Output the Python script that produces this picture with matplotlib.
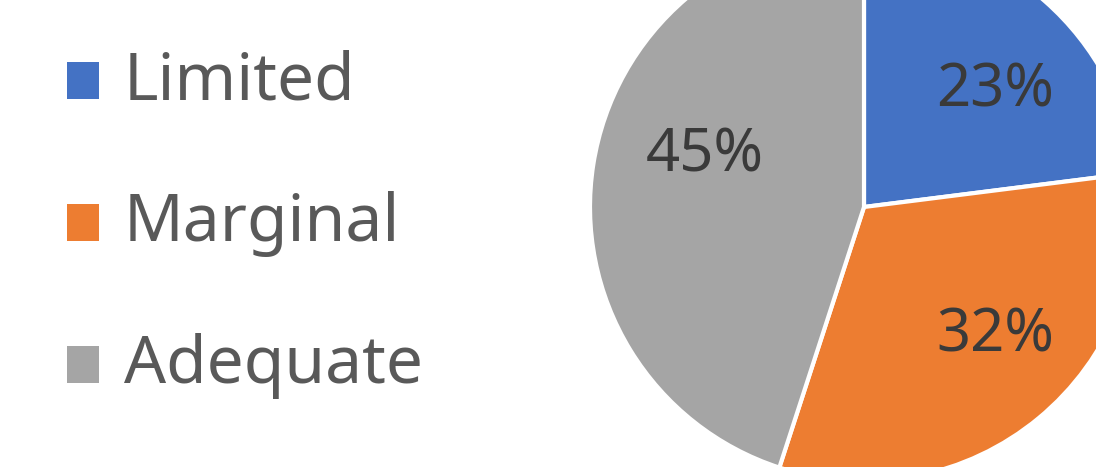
import matplotlib
matplotlib.use("Agg")
import matplotlib.pyplot as plt
import numpy as np

categories = ["Limited", "Marginal", "Adequate"]
values = [23, 32, 45]
colors = ["#4472C4", "#ED7D31", "#A5A5A5"]

W, H = 1096, 467
fig = plt.figure(figsize=(W / 100, H / 100), dpi=100)
ax = fig.add_axes([0, 0, 1, 1])
ax.set_xlim(0, W)
ax.set_ylim(0, H)
ax.set_aspect("equal")
ax.axis("off")

cx, cy, R = 864, H - 207, 274
wedges, texts, autotexts = ax.pie(
    values, colors=colors, startangle=90, counterclock=False,
    center=(cx, cy), radius=R,
    autopct=lambda p: f"{p:.0f}%", pctdistance=0.64,
    wedgeprops=dict(edgecolor="white", linewidth=3),
    textprops=dict(fontsize=43, color="#3A3A3A", family="Noto Sans"),
)
ax.set_xlim(0, W)
ax.set_ylim(0, H)

# Excel-like label placement: small angular / radial adjustment per wedge
label_angle_offset = [-7, 6, -9]
label_radius_frac = [0.64, 0.67, 0.61]
for w, t, off, fr in zip(wedges, autotexts, label_angle_offset, label_radius_frac):
    mid = np.deg2rad((w.theta1 + w.theta2) / 2 + off)
    t.set_position((cx + fr * R * np.cos(mid), cy + fr * R * np.sin(mid)))

leg = ax.legend(
    wedges, categories, loc="upper left", bbox_to_anchor=(67 / W, 1 - 49 / H),
    bbox_transform=fig.transFigure, frameon=False,
    prop=dict(family="Noto Sans", size=47.5), labelcolor="#595959",
    handlelength=0.48, handleheight=0.48, handletextpad=0.38, labelspacing=1.15,
    borderaxespad=0, borderpad=0,
)
for p in leg.get_patches():
    p.set_linewidth(0)
    p.set_y(p.get_y() - 3.5)

fig.savefig("out.png", dpi=100)
